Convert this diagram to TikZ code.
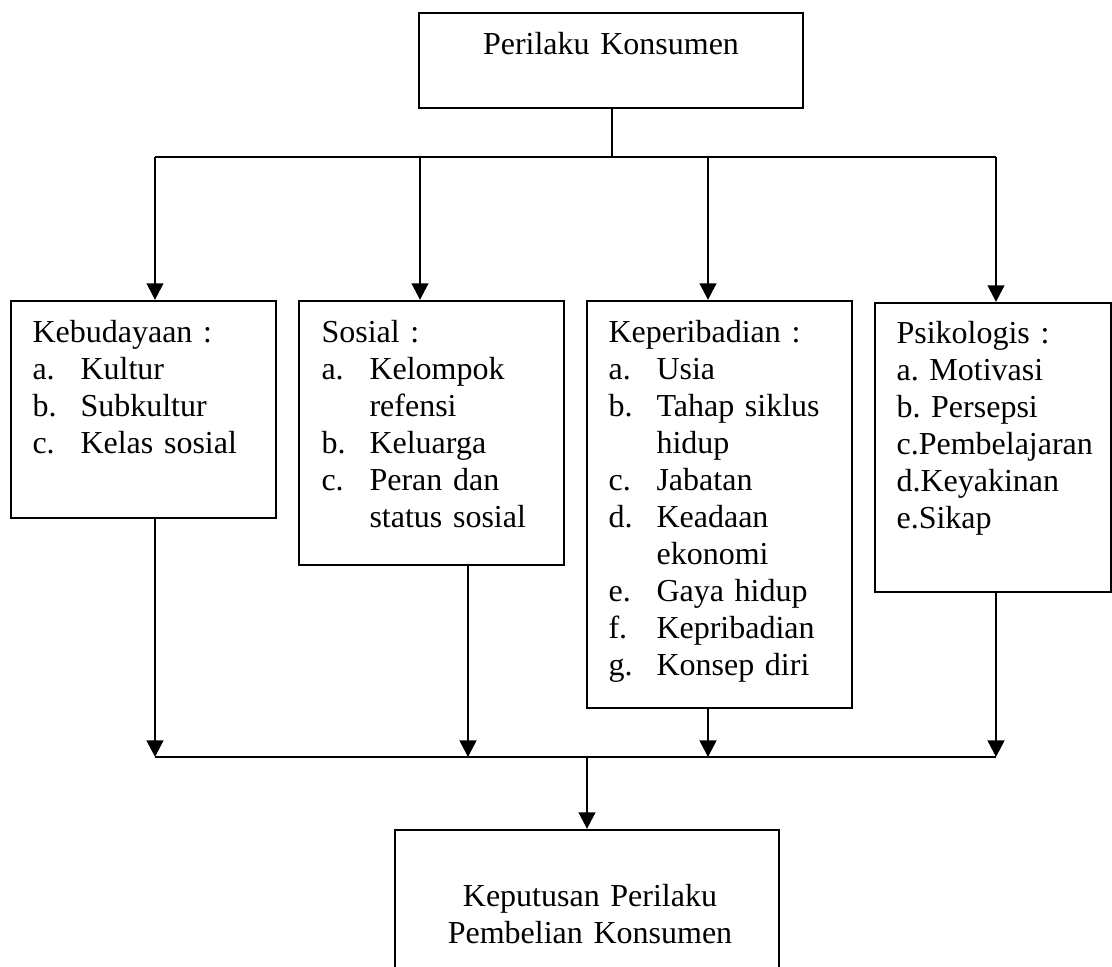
\documentclass[tikz,border=0pt]{standalone}
\usepackage{fontspec}
\setmainfont{Liberation Serif}
\usetikzlibrary{arrows.meta,fit}

% list line with a hanging label
\newcommand{\itemline}[2]{\makebox[18pt][l]{#1}#2}
\newcommand{\itemcont}[1]{\hspace*{18pt}#1}

\begin{document}
\frenchspacing
\begin{tikzpicture}[
  x=0.375pt, y=-0.375pt,
  frame/.style={draw, line width=0.85pt, inner sep=0pt},
  boxtext/.style={anchor=base west, inner sep=0pt, text width=95pt, align=left, font=\fontsize{12}{13.9}\selectfont},
  title/.style={anchor=base, inner sep=0pt, text width=150pt, align=center, font=\fontsize{12}{13.9}\selectfont},
  link/.style={line width=0.95pt},
  arr/.style={link, -{Triangle[length=6.2pt,width=6.2pt]}}
]
\clip (0,0) rectangle (1112,966);

% boxes
\node[frame, fit={(419,13) (803,108)}] (perilaku) {};
\node[frame, fit={(11,301) (276,518)}] (kebudayaan) {};
\node[frame, fit={(299,301) (564,565)}] (sosial) {};
\node[frame, fit={(587,301) (852,708)}] (kepribadian) {};
\node[frame, fit={(875,303) (1111,592)}] (psikologis) {};
\node[frame, fit={(395,830) (779,1010)}] (keputusan) {};

% texts
\node[title] (perilaku text) at (611,54) {Perilaku Konsumen};
\node[boxtext] (kebudayaan text) at (32,342) {Kebudayaan :\\
  \itemline{a.}{Kultur}\\
  \itemline{b.}{Subkultur}\\
  \itemline{c.}{Kelas sosial}};
\node[boxtext] (sosial text) at (321,342) {Sosial :\\
  \itemline{a.}{Kelompok}\\
  \itemcont{refensi}\\
  \itemline{b.}{Keluarga}\\
  \itemline{c.}{Peran dan}\\
  \itemcont{status sosial}};
\node[boxtext] (kepribadian text) at (608,342) {Keperibadian :\\
  \itemline{a.}{Usia}\\
  \itemline{b.}{Tahap siklus}\\
  \itemcont{hidup}\\
  \itemline{c.}{Jabatan}\\
  \itemline{d.}{Keadaan}\\
  \itemcont{ekonomi}\\
  \itemline{e.}{Gaya hidup}\\
  \itemline{f.}{Kepribadian}\\
  \itemline{g.}{Konsep diri}};
\node[boxtext] (psikologis text) at (896,343) {Psikologis :\\
  a. Motivasi\\
  b. Persepsi\\
  c.Pembelajaran\\
  d.Keyakinan\\
  e.Sikap};
\node[title] (keputusan text) at (590,906) {Keputusan Perilaku\\Pembelian Konsumen};

% upper bus
\coordinate (topbus) at (612,157);
\draw[link] (perilaku.south -| topbus) -- (topbus);
\foreach \name/\xin/\xout in {kebudayaan/155/155, sosial/420/468, kepribadian/708/708, psikologis/996/996}{
  \coordinate (\name-in) at (\xin,157);
  \coordinate (\name-out) at (\xout,757);
  \draw[arr] (\name-in) -- (\name-in |- \name.north);
  \draw[arr] (\name-out |- \name.south) -- (\name-out);
}
\draw[link] (kebudayaan-in) -- (psikologis-in);

% lower bus
\coordinate (bottombus) at (587,757);
\draw[link] (kebudayaan-out) -- (psikologis-out);
\draw[arr] (bottombus) -- (keputusan.north);
\end{tikzpicture}
\end{document}
